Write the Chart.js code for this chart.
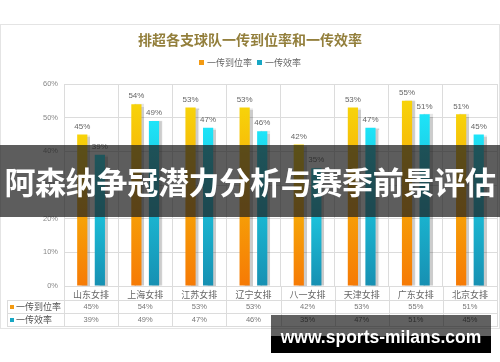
<!DOCTYPE html>
<html>
<head>
<meta charset="utf-8">
<title>排超各支球队一传到位率和一传效率</title>
<script src="https://cdn.jsdelivr.net/npm/chart.js@4.4.1/dist/chart.umd.min.js"></script>
<style>
    html, body { margin: 0; padding: 0; background: #fff; }
    #wrap { position: relative; width: 500px; height: 362px; overflow: hidden; }
    #card {
        position: absolute; left: 0; top: 24px; width: 500px; height: 305px;
        box-sizing: border-box; border: 1px solid #e4e4e4; background: #fff;
    }
    #chart { position: absolute; left: 0; top: 0; }
    #banner {
        position: absolute; left: 0; top: 145px; width: 500px; height: 72px;
        background: rgba(30, 30, 30, 0.72); color: #fff;
        font: bold 31px "Noto Sans CJK SC", sans-serif;
        line-height: 72px; text-align: center; white-space: nowrap; letter-spacing: -0.3px;
    }
    #mark-top {
        position: absolute; left: 271px; top: 315px; width: 220px; height: 21px;
        background: rgba(0, 0, 0, 0.62);
    }
    #mark-bottom {
        position: absolute; left: 271px; top: 336px; width: 220px; height: 17px;
        background: #000;
    }
    #mark-text {
        position: absolute; left: 271px; top: 322px; width: 220px; height: 30px;
        color: #fff; font: bold 17.5px "Liberation Sans", sans-serif;
        line-height: 30px; text-align: center; white-space: nowrap;
    }
</style>
</head>
<body>
<div id="wrap">
    <div id="card"></div>
    <canvas id="chart" width="500" height="362"></canvas>
    <div id="banner">阿森纳争冠潜力分析与赛季前景评估</div>
    <div id="mark-top"></div>
    <div id="mark-bottom"></div>
    <div id="mark-text">www.sports-milans.com</div>
</div>

<script>
// ========================================
// Data
// ========================================
const chartTitle = '排超各支球队一传到位率和一传效率';
const teams = ['山东女排', '上海女排', '江苏女排', '辽宁女排', '八一女排', '天津女排', '广东女排', '北京女排'];
const seriesNames = ['一传到位率', '一传效率'];
const passAccuracy = [45, 54, 53, 53, 42, 53, 55, 51];
const passEfficiency = [39, 49, 47, 46, 35, 47, 51, 45];
const yTicks = [0, 10, 20, 30, 40, 50, 60];

const COLORS = {
    orangeTop: '#f7d30a',
    orangeBottom: '#f67a05',
    blueTop: '#1ee4f8',
    blueBottom: '#1790b2',
    orangeMark: '#f39a12',
    blueMark: '#17a7c4',
    grid: '#dcdcdc',
    text: '#666',
    title: '#937f3c'
};

/**
 * Vertical gradient from the top of a bar down to zero
 */
function barGradient(context, top, bottom) {
    const chart = context.chart;
    if (!chart.chartArea || context.raw === undefined) return top;
    const y = chart.scales.y;
    const g = chart.ctx.createLinearGradient(0, y.getPixelForValue(context.raw), 0, y.getPixelForValue(0));
    g.addColorStop(0, top);
    g.addColorStop(1, bottom);
    return g;
}

// Soft shadow to the right of the bars
const barShadow = {
    id: 'barShadow',
    beforeDatasetDraw: function(chart) {
        const ctx = chart.ctx;
        ctx.save();
        ctx.shadowColor = 'rgba(0, 0, 0, 0.2)';
        ctx.shadowOffsetX = 3;
        ctx.shadowOffsetY = 0;
        ctx.shadowBlur = 1;
    },
    afterDatasetDraw: function(chart) {
        chart.ctx.restore();
    }
};

// Title, legend, value labels and the data table under the axis
const decorations = {
    id: 'decorations',
    afterDraw: function(chart) {
        const ctx = chart.ctx;
        const x = chart.scales.x;
        const area = chart.chartArea;
        const marks = [COLORS.orangeMark, COLORS.blueMark];
        const rows = [passAccuracy, passEfficiency];

        ctx.save();

        // title
        ctx.fillStyle = COLORS.title;
        ctx.font = 'bold 14px "Noto Sans CJK SC", sans-serif';
        ctx.textAlign = 'center';
        ctx.textBaseline = 'middle';
        ctx.fillText(chartTitle, 250, 40);

        // legend
        ctx.font = '9px "Noto Sans CJK SC", sans-serif';
        ctx.textAlign = 'left';
        let lx = 199;
        seriesNames.forEach((name, i) => {
            ctx.fillStyle = marks[i];
            ctx.fillRect(lx, 60, 5, 5);
            ctx.fillStyle = COLORS.text;
            ctx.fillText(name, lx + 8, 62.5);
            lx += 8 + ctx.measureText(name).width + 5;
        });

        // value labels above bars
        ctx.font = '8px "Liberation Sans", sans-serif';
        ctx.textAlign = 'center';
        ctx.textBaseline = 'bottom';
        ctx.fillStyle = COLORS.text;
        chart.data.datasets.forEach((ds, di) => {
            chart.getDatasetMeta(di).data.forEach((bar, i) => {
                ctx.fillText(ds.data[i] + '%', bar.x, bar.y - 4);
            });
        });

        // data table
        const half = (x.getPixelForValue(1) - x.getPixelForValue(0)) / 2;
        const left = x.getPixelForValue(0) - half;
        const tableLeft = 7;
        const rowTop = 300.5, rowH = 13;

        ctx.strokeStyle = COLORS.grid;
        ctx.lineWidth = 1;
        ctx.beginPath();
        for (let i = 0; i <= teams.length; i++) {
            const px = Math.round(left + i * half * 2) + 0.5;
            ctx.moveTo(px, area.bottom);
            ctx.lineTo(px, rowTop + rowH * 2);
        }
        ctx.moveTo(tableLeft + 0.5, rowTop);
        ctx.lineTo(tableLeft + 0.5, rowTop + rowH * 2);
        for (let r = 0; r <= 2; r++) {
            ctx.moveTo(tableLeft, rowTop + r * rowH);
            ctx.lineTo(area.right + 1, rowTop + r * rowH);
        }
        ctx.stroke();

        ctx.textBaseline = 'middle';
        rows.forEach((vals, r) => {
            const cy = rowTop + r * rowH + rowH / 2;
            ctx.fillStyle = marks[r];
            ctx.fillRect(10, cy - 2, 4, 4);
            ctx.fillStyle = '#555';
            ctx.font = '9px "Noto Sans CJK SC", sans-serif';
            ctx.textAlign = 'left';
            ctx.fillText(seriesNames[r], 16, cy);
            ctx.fillStyle = '#777';
            ctx.font = '7.5px "Liberation Sans", sans-serif';
            ctx.textAlign = 'center';
            vals.forEach((v, i) => {
                ctx.fillText(v + '%', x.getPixelForValue(i), cy);
            });
        });

        ctx.restore();
    }
};

new Chart(document.getElementById('chart'), {
    type: 'bar',
    data: {
        labels: teams,
        datasets: [
            {
                label: seriesNames[0],
                data: passAccuracy,
                backgroundColor: ctx => barGradient(ctx, COLORS.orangeTop, COLORS.orangeBottom)
            },
            {
                label: seriesNames[1],
                data: passEfficiency,
                backgroundColor: ctx => barGradient(ctx, COLORS.blueTop, COLORS.blueBottom)
            }
        ]
    },
    options: {
        responsive: false,
        devicePixelRatio: 1,
        animation: false,
        categoryPercentage: 0.65,
        barPercentage: 0.58,
        layout: { padding: { top: 84, left: 0, right: 3, bottom: 0 } },
        plugins: {
            legend: { display: false },
            title: { display: false },
            tooltip: { enabled: false }
        },
        scales: {
            x: {
                grid: { offset: true, color: COLORS.grid, drawTicks: false },
                border: { display: false },
                ticks: {
                    color: COLORS.text,
                    padding: 3,
                    font: { size: 9, family: '"Noto Sans CJK SC", sans-serif' }
                },
                afterFit: function(scale) { scale.height = 76; }
            },
            y: {
                min: yTicks[0],
                max: yTicks[yTicks.length - 1],
                grid: { color: COLORS.grid, drawTicks: false },
                border: { display: false },
                ticks: {
                    stepSize: yTicks[1] - yTicks[0],
                    color: '#888',
                    padding: 6,
                    font: { size: 7.5, family: '"Liberation Sans", sans-serif' },
                    callback: value => value + '%'
                },
                afterFit: function(scale) { scale.width = 64; }
            }
        }
    },
    plugins: [barShadow, decorations]
});
</script>
</body>
</html>
